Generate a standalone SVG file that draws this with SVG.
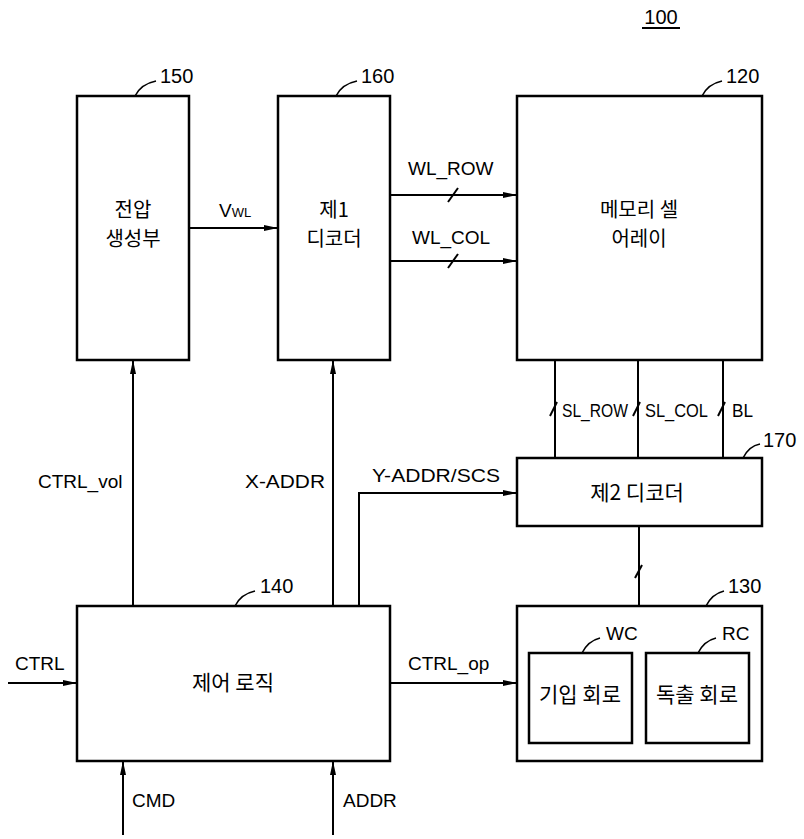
<svg xmlns="http://www.w3.org/2000/svg" width="804" height="839" viewBox="0 0 804 839">
<style>
.box{fill:#fff;stroke:#000;stroke-width:2.5}
.ln{fill:none;stroke:#000;stroke-width:2}
.ld{fill:none;stroke:#000;stroke-width:1.6}
.t{font-family:"Liberation Sans",Arial,sans-serif;font-size:19px;fill:#000}
.r{font-family:"Liberation Sans",Arial,sans-serif;font-size:20px;fill:#000}
.k{font-family:"Noto Sans CJK KR",sans-serif;font-size:21px;fill:#000}
.k2{font-family:"Noto Sans CJK KR",sans-serif;font-size:20px;fill:#000}
.m{text-anchor:middle}
</style>
<defs>
<marker id="ar" viewBox="0 0 14 8" refX="14" refY="4" markerWidth="14" markerHeight="8" markerUnits="userSpaceOnUse" orient="auto">
<path d="M0,1 L14,4 L0,7 Z" fill="#000"/>
</marker>
</defs>

<g id="label100">
<text class="r m" x="661" y="24">100</text>
<line x1="642" y1="28" x2="680" y2="28" stroke="#000" stroke-width="2"/>
</g>

<g id="n150">
<rect class="box" x="77" y="96" width="112" height="264"/>
<text class="k2 m" x="133" y="217">전압</text>
<text class="k2 m" x="133" y="246">생성부</text>
<path class="ld" d="M135,96 Q141,84 156,81"/>
<text class="r" x="160" y="83">150</text>
</g>

<g id="n160">
<rect class="box" x="278" y="96" width="112" height="264"/>
<text class="k2 m" x="334" y="217">제1</text>
<text class="k2 m" x="334" y="246">디코더</text>
<path class="ld" d="M336,96 Q342,84 357,81"/>
<text class="r" x="361" y="83">160</text>
</g>

<g id="n120">
<rect class="box" x="517" y="96" width="245" height="264"/>
<text class="k2 m" x="639" y="217">메모리 셀</text>
<text class="k2 m" x="639" y="246">어레이</text>
<path class="ld" d="M702,96 Q708,84 722,81"/>
<text class="r" x="726" y="83">120</text>
</g>

<g id="n170">
<rect class="box" x="517" y="458" width="245" height="68"/>
<text class="k m" x="637" y="500">제2 디코더</text>
<path class="ld" d="M743,458 Q749,446 760,444"/>
<text class="r" x="763" y="447">170</text>
</g>

<g id="n140">
<rect class="box" x="77" y="606" width="313" height="155"/>
<text class="k m" x="233" y="690">제어 로직</text>
<path class="ld" d="M235,606 Q241,594 255,591"/>
<text class="r" x="260" y="593">140</text>
</g>

<g id="n130">
<rect class="box" x="517" y="606" width="245" height="155"/>
<path class="ld" d="M706,606 Q712,594 724,591"/>
<text class="r" x="728" y="593">130</text>
</g>

<g id="nWC">
<rect class="box" x="529" y="653" width="103" height="90"/>
<text class="k m" x="580" y="702">기입 회로</text>
<path class="ld" d="M582,653 Q588,641 600,638"/>
<text class="t" x="606" y="640">WC</text>
</g>

<g id="nRC">
<rect class="box" x="646" y="653" width="103" height="90"/>
<text class="k m" x="697" y="702">독출 회로</text>
<path class="ld" d="M698,653 Q704,641 716,638"/>
<text class="t" x="722" y="640">RC</text>
</g>

<g id="connectors">
<line class="ln" x1="189" y1="228" x2="278" y2="228" marker-end="url(#ar)"/>
<text class="t" x="219" y="217">V<tspan font-size="13">WL</tspan></text>

<line class="ln" x1="390" y1="195" x2="517" y2="195" marker-end="url(#ar)"/>
<line class="ln" x1="448" y1="202" x2="458" y2="188"/>
<text class="t" x="408" y="175">WL_ROW</text>

<line class="ln" x1="390" y1="261" x2="517" y2="261" marker-end="url(#ar)"/>
<line class="ln" x1="448" y1="268" x2="458" y2="254"/>
<text class="t" x="412" y="244">WL_COL</text>

<line class="ln" x1="555" y1="360" x2="555" y2="458"/>
<line class="ln" x1="550" y1="416" x2="557" y2="402"/>
<text class="t" x="562" y="417" textLength="66" lengthAdjust="spacingAndGlyphs">SL_ROW</text>
<line class="ln" x1="638" y1="360" x2="638" y2="458"/>
<line class="ln" x1="633" y1="416" x2="640" y2="402"/>
<text class="t" x="645" y="417" textLength="63" lengthAdjust="spacingAndGlyphs">SL_COL</text>
<line class="ln" x1="723" y1="360" x2="723" y2="458"/>
<line class="ln" x1="718" y1="416" x2="725" y2="402"/>
<text class="t" x="732" y="417" textLength="21" lengthAdjust="spacingAndGlyphs">BL</text>

<line class="ln" x1="639" y1="526" x2="639" y2="606"/>
<line class="ln" x1="635" y1="578" x2="642" y2="565"/>

<line class="ln" x1="133" y1="606" x2="133" y2="360" marker-end="url(#ar)"/>
<text class="t" x="38" y="488">CTRL_vol</text>

<line class="ln" x1="333" y1="606" x2="333" y2="360" marker-end="url(#ar)"/>
<text class="t" x="245" y="488" textLength="80" lengthAdjust="spacingAndGlyphs">X-ADDR</text>

<polyline class="ln" points="359,606 359,493 517,493" marker-end="url(#ar)"/>
<text class="t" x="372" y="482" textLength="128" lengthAdjust="spacingAndGlyphs">Y-ADDR/SCS</text>

<line class="ln" x1="8" y1="683" x2="77" y2="683" marker-end="url(#ar)"/>
<text class="t" x="15" y="670">CTRL</text>

<line class="ln" x1="390" y1="683" x2="517" y2="683" marker-end="url(#ar)"/>
<text class="t" x="408" y="670">CTRL_op</text>

<line class="ln" x1="123" y1="835" x2="123" y2="761" marker-end="url(#ar)"/>
<text class="t" x="132" y="807">CMD</text>

<line class="ln" x1="333" y1="835" x2="333" y2="761" marker-end="url(#ar)"/>
<text class="t" x="343" y="807">ADDR</text>
</g>
</svg>
